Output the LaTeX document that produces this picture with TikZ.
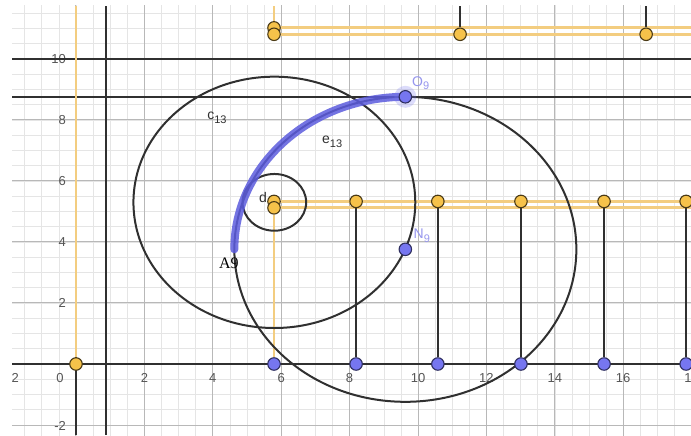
\documentclass[tikz,border=0pt]{standalone}
\usepackage{fontspec}
\setmainfont{Liberation Sans}
\newfontfamily\labelserif{Liberation Serif}

\definecolor{ggorange}{RGB}{246,194,74}
\definecolor{ggoline}{RGB}{243,205,128}
\definecolor{ggblue}{RGB}{118,118,240}
\definecolor{ggblueline}{RGB}{92,92,222}
\definecolor{ggdark}{RGB}{48,48,48}
\definecolor{gglabel}{RGB}{150,150,238}
\definecolor{ggnum}{RGB}{85,85,85}

\pgfdeclarelayer{bg}
\pgfsetlayers{bg,main}

\tikzset{
  gridminor/.style={black!10,line width=0.6pt,step=0.5},
  gridmajor/.style={black!28,line width=1pt,step=2},
  axisline/.style={ggdark,line width=2.3pt},
  oline/.style={ggoline,line width=2.8pt},
  dline/.style={ggdark,line width=2.3pt},
  circ/.style={ggdark,line width=2pt},
  bluearc/.style={ggblueline,opacity=0.85,line width=8pt,line cap=round},
  opt/.style={circle,draw=black!70!ggorange,fill=ggorange,line width=1.1pt,inner sep=0pt,minimum size=12.5pt},
  bpt/.style={circle,draw=ggblue!40!black,fill=ggblue,line width=1.1pt,inner sep=0pt,minimum size=12.5pt},
  num/.style={text=ggnum,font=\fontsize{13}{13}\selectfont,inner sep=0pt},
  lab/.style={text=ggdark,font=\fontsize{14}{14}\selectfont,inner sep=0pt},
}
\newcommand{\gsub}[2]{#1\raisebox{-0.5ex}{\fontsize{11}{11}\selectfont#2}}

\begin{document}
\begin{tikzpicture}[x=34.2pt,y=30.5pt]
\useasboundingbox (-2.222,-2.328) rectangle (17.982,11.934);

\coordinate (xL) at (-1.871,0);
\coordinate (xR) at (17.982,0);
\coordinate (yB) at (0,-2.328);
\coordinate (yT) at (0,11.738);
\coordinate (h10L) at (-1.871,10);
\coordinate (h10R) at (17.982,10);
\coordinate (hOL) at (-1.871,8.76);
\coordinate (hOR) at (17.982,8.76);
\coordinate (vB) at (0.88,-2.328);
\coordinate (vT) at (0.88,11.738);
\coordinate (C13) at (5.8,5.3);
\coordinate (A9e) at (4.63,3.76);

\node[opt] (P0) at (0,0) {};
\node[opt] (Ta) at (5.79,11.02) {};
\node[opt] (Tb) at (5.79,10.81) {};
\node[opt] (T1) at (11.23,10.81) {};
\node[opt] (T2) at (16.67,10.81) {};
\node[opt] (Ma) at (5.79,5.33) {};
\node[opt] (Mb) at (5.79,5.12) {};
\node[opt] (M1) at (8.19,5.33) {};
\node[opt] (M2) at (10.58,5.33) {};
\node[opt] (M3) at (13.01,5.33) {};
\node[opt] (M4) at (15.44,5.33) {};
\node[opt] (M5) at (17.84,5.33) {};
\node[bpt] (B0) at (5.79,0) {};
\node[bpt] (B1) at (8.19,0) {};
\node[bpt] (B2) at (10.58,0) {};
\node[bpt] (B3) at (13.01,0) {};
\node[bpt] (B4) at (15.44,0) {};
\node[bpt] (B5) at (17.84,0) {};
\node[bpt] (N9) at (9.63,3.76) {};
\node[bpt] (O9) at (9.63,8.76) {};

\coordinate (P0u) at (0,11.738);
\coordinate (Tau) at (5.79,11.738);
\coordinate (T1u) at (11.23,11.738);
\coordinate (T2u) at (16.67,11.738);
\coordinate (TaR) at (17.982,11.02);
\coordinate (TbR) at (17.982,10.81);
\coordinate (MaR) at (17.982,5.33);
\coordinate (MbR) at (17.982,5.12);

\node[lab] (c13) at (4.12,8.07) {\gsub{c}{13}};
\node[lab] (e13) at (7.49,7.28) {\gsub{e}{13}};
\node[lab] (dlab) at (5.47,5.47) {d};
\node[text=black,font=\labelserif\fontsize{16}{16}\selectfont,inner sep=0pt] (A9) at (4.47,3.31) {A9};
\node[lab,text=gglabel] (O9lab) at (10.08,9.21) {\gsub{O}{9}};
\node[lab,text=gglabel] (N9lab) at (10.11,4.20) {\gsub{N}{9}};

\draw[dline] (T1) -- (T1u);
\draw[dline] (T2) -- (T2u);
\draw[dline] (M1) -- (B1);
\draw[dline] (M2) -- (B2);
\draw[dline] (M3) -- (B3);
\draw[dline] (M4) -- (B4);
\draw[dline] (M5) -- (B5);

\begin{pgfonlayer}{bg}
\begin{scope}
\clip (-1.871,-2.328) rectangle (17.982,11.738);
\fill[white] (-1.871,-2.328) rectangle (17.982,11.738);
\draw[gridminor] (-2,-2.5) grid (18.5,12);
\draw[gridmajor] (-2,-2.5) grid (18.5,12);

\foreach \i in {2,4,...,18}
  \node[num] (xl\i) at (\i,-0.46) {\i};
\node[num] (xl0) at (-0.47,-0.46) {0};
\node[num] (xlm2) at (-1.84,-0.46) {-2};
\foreach \j in {2,4,...,10}
  \node[num,anchor=east] (yl\j) at (-0.29,\j) {\j};
\node[num,anchor=east] (ylm2) at (-0.29,-2.03) {-2};

\draw[axisline] (xL) -- (xR);
\draw[axisline] (yB) -- (yT);
\draw[axisline] (h10L) -- (h10R);
\draw[axisline] (hOL) -- (hOR);
\draw[axisline] (vB) -- (vT);

\draw[oline] (P0) -- (P0u);
\draw[oline] (Ta) -- (Tau);
\draw[oline] (Ta) -- (TaR);
\draw[oline] (Tb) -- (TbR);
\draw[oline] (Ma) -- (MaR);
\draw[oline] (Mb) -- (MbR);
\draw[oline] (Mb) -- (B0);

\draw[circ] (C13) circle[radius=4.12];
\draw[circ] (C13) circle[radius=0.93];
\draw[circ] (N9) circle[radius=5];

\draw[bluearc] (A9e) arc[start angle=180,end angle=90,radius=5];
\fill[ggblue,opacity=0.25] (O9) circle (11pt);
\end{scope}
\end{pgfonlayer}
\end{tikzpicture}
\end{document}
